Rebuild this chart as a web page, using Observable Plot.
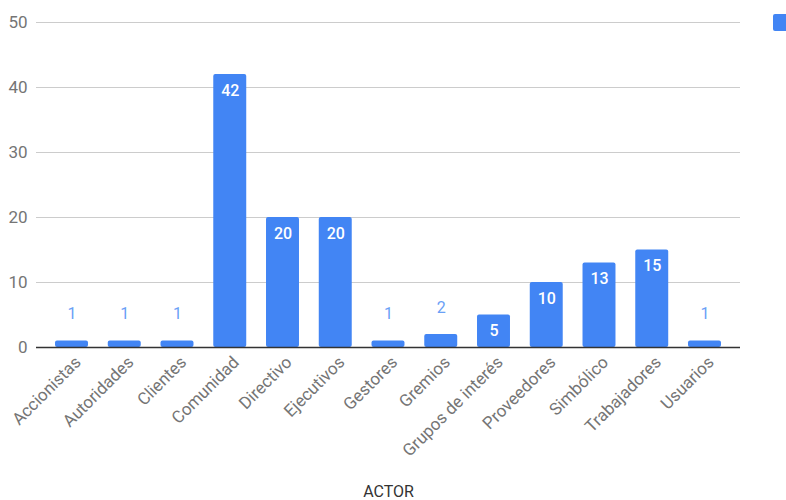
<!DOCTYPE html>
<html>
<head>
<meta charset="utf-8">
<script src="https://cdn.jsdelivr.net/npm/d3@7"></script>
<script src="https://cdn.jsdelivr.net/npm/@observablehq/plot@0.6"></script>
<style>
  html, body { margin: 0; padding: 0; background: #fff; overflow: hidden; }
  #wrap { position: relative; width: 786px; height: 500px; font-family: Roboto, sans-serif; }
  #legend { position: absolute; left: 773px; top: 14px; width: 17px; height: 17px; background: #4285F4; border-radius: 2px; }
</style>
</head>
<body>
<div id="wrap"><div id="legend"></div></div>
<script>
const actors = ["Accionistas","Autoridades","Clientes","Comunidad","Directivo","Ejecutivos","Gestores","Gremios","Grupos de interés","Proveedores","Simbólico","Trabajadores","Usuarios"];
const counts = [1,1,1,42,20,20,1,2,5,10,13,15,1];
const yTicks = [0,10,20,30,40,50];
const xTitle = "ACTOR";

const data = actors.map((a, i) => ({actor: a, count: counts[i]}));
const blue = "#4285F4";

const chart = Plot.plot({
  width: 786,
  height: 500,
  marginTop: 22,
  marginBottom: 153,
  marginLeft: 36,
  marginRight: 46,
  style: {fontFamily: "Roboto, sans-serif", background: "transparent"},
  x: {domain: actors, paddingInner: 0.375, paddingOuter: 0.19, round: false, insetLeft: 9, insetRight: 9, label: null},
  y: {domain: [0, 50], ticks: yTicks, label: null},
  marks: [
    Plot.gridY(yTicks, {stroke: "#cccccc", strokeOpacity: 1, strokeWidth: 1}),
    Plot.axisY({ticks: yTicks, tickSize: 0, tickPadding: 9, fontSize: 17, fill: "#757575", label: null}),
    Plot.barY(data, {x: "actor", y: "count", fill: blue, rx: 2}),
    Plot.ruleY([0], {stroke: "#333333", strokeWidth: 1.5}),
    Plot.axisX({tickSize: 0, tickRotate: -45, tickPadding: 12, dx: 6, fontSize: 17, fill: "#757575", label: null}),
    Plot.text(data.filter(d => d.count >= 5), {x: "actor", y: "count", text: d => String(d.count), dy: 16, fill: "white", fontSize: 16, fontWeight: 500}),
    Plot.text(data.filter(d => d.count < 5), {x: "actor", y: "count", text: d => String(d.count), dy: -27, fill: "#6aa0f6", fontSize: 16}),
    Plot.text([xTitle], {frameAnchor: "bottom", dy: 149, text: d => d, fontSize: 16, fill: "#333333"})
  ]
});
document.getElementById("wrap").prepend(chart);
</script>
</body>
</html>
